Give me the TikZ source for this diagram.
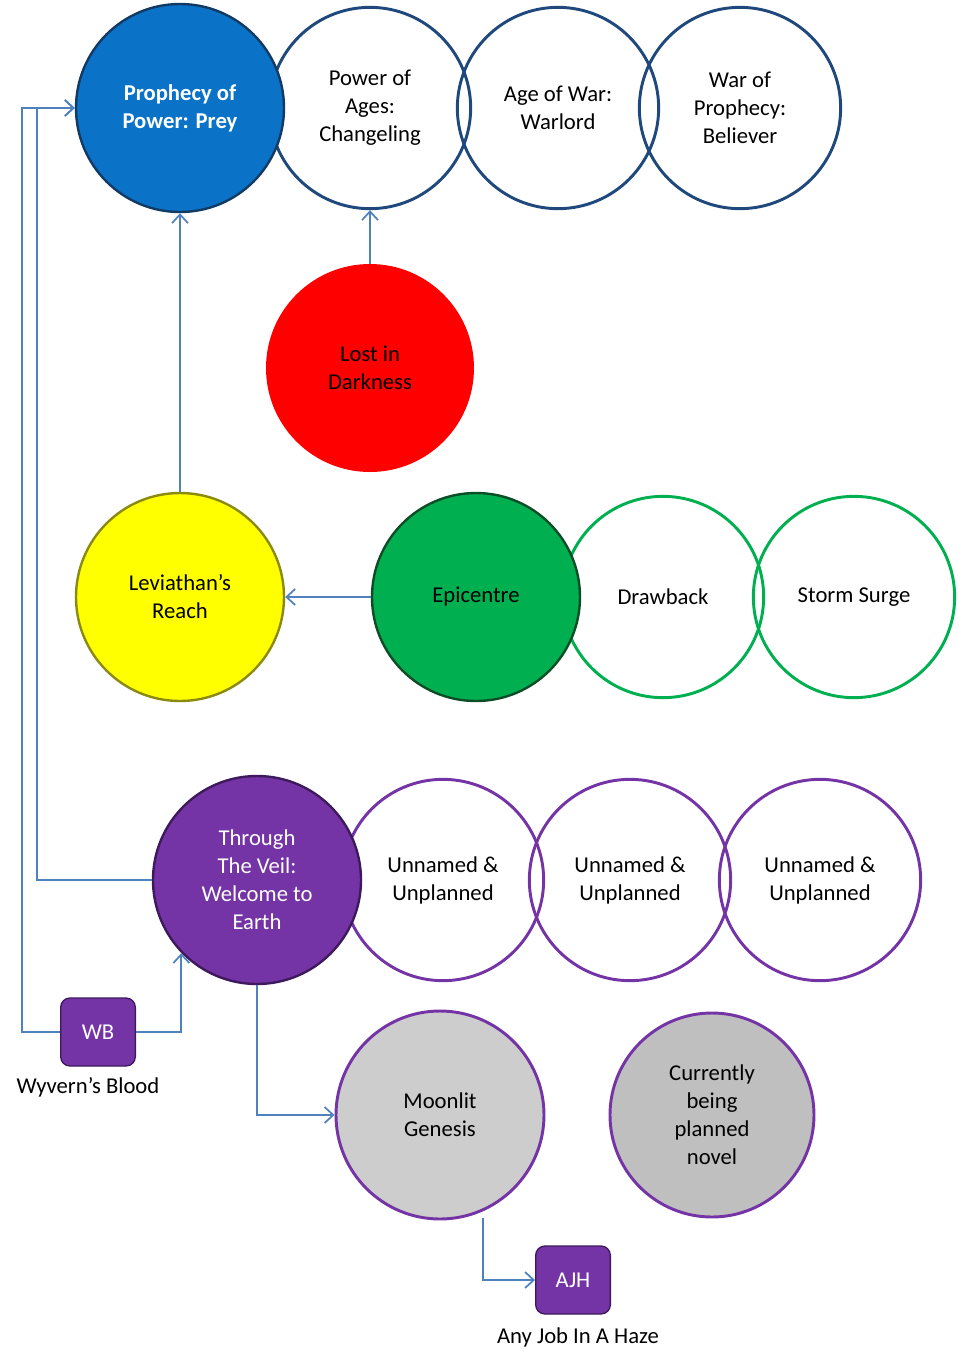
\documentclass[tikz,border=0pt]{standalone}
\usepackage{fontspec}
\setmainfont{Carlito}
\usetikzlibrary{arrows.meta}

\definecolor{linkblue}{HTML}{4F81BD}
\definecolor{navyring}{HTML}{1F497D}
\definecolor{preyblue}{HTML}{0A73C8}
\definecolor{preyrim}{HTML}{123A63}
\definecolor{leafgreen}{HTML}{00B050}
\definecolor{greenrim}{HTML}{0B4D26}
\definecolor{sunyellow}{HTML}{FFFF00}
\definecolor{yellowrim}{HTML}{8A8A10}
\definecolor{veilpurple}{HTML}{7434A6}
\definecolor{purplerim}{HTML}{3E1A5C}
\definecolor{moongray}{HTML}{CDCDCD}
\definecolor{novelgray}{HTML}{BFBFBF}

\tikzset{
  every node/.style={font=\fontsize{17}{21}\selectfont, align=center},
  ring/.style={circle, draw=#1, line width=2.2pt, minimum size=151pt, inner sep=0pt},
  book/.style={circle, fill=#1, minimum size=156pt, inner sep=0pt},
  tag/.style={rounded corners=7pt, fill=veilpurple, draw=purplerim, line width=1pt,
    minimum width=56pt, minimum height=51pt, text=white},
  link/.style={draw=linkblue, line width=1.3pt, -{Straight Barb[length=6.5pt, width=12pt]}}
}

\begin{document}
\begin{tikzpicture}[x=0.75pt, y=-0.75pt]
	\useasboundingbox (0,0) rectangle (959,1365);

	% first series
	\node[ring=navyring] (ages) at (370,108) {Power of\\Ages:\\Changeling};
	\node[ring=navyring] (warlord) at (558,108) {Age of War:\\Warlord};
	\node[ring=navyring] (believer) at (740,108) {War of\\Prophecy:\\Believer};
	\node[book=preyblue, draw=preyrim, line width=1.8pt, text=white, font=\fontsize{17}{21}\selectfont\bfseries] (prey) at (180,108) {Prophecy of\\Power: Prey};

	\node[book=red] (lost) at (370,368) {Lost in\\Darkness};

	% second series
	\node[ring=leafgreen] (drawback) at (663,597) {Drawback};
	\node[ring=leafgreen] (storm) at (854,597) {Storm Surge};
	\node[book=leafgreen, draw=greenrim, line width=1.8pt] (epi) at (476,597) {Epicentre};
	\node[book=sunyellow, draw=yellowrim, line width=1.8pt] (lev) at (180,597) {Leviathan’s\\Reach};

	% third series
	\node[ring=veilpurple] (unA) at (443,880) {Unnamed \&\\Unplanned};
	\node[ring=veilpurple] (unB) at (630,880) {Unnamed \&\\Unplanned};
	\node[ring=veilpurple] (unC) at (820,880) {Unnamed \&\\Unplanned};
	\node[book=veilpurple, draw=purplerim, line width=1.8pt, text=white] (veil) at (257,880) {Through\\The Veil:\\Welcome to\\Earth};

	\node[book=moongray, draw=veilpurple, line width=2.2pt] (moon) at (440,1115) {Moonlit\\Genesis};
	\node[book=novelgray, draw=veilpurple, line width=2.2pt, minimum size=153pt] (novel) at (712,1115) {Currently\\being\\planned\\novel};

	% short stories
	\node[tag] (wb) at (98,1032) {WB};
	\node (wbname) at (88,1087) {Wyvern’s Blood};
	\node[tag] (ajh) at (573,1280) {AJH};
	\node (ajhname) at (578,1337) {Any Job In A Haze};

	\draw[link] (lost.north) -- (ages.south);
	\draw[link] (lev.north) -- (prey.south);
	\draw[link] (epi.west) -- (lev.east);
	\draw[link] (veil.west) -- ++(-115,0) |- (prey.west);
	\draw[link] (wb.west) -- ++(-38,0) |- (prey.west);
	\draw[link] (wb.east) -| (veil.224);
	\draw[link] (veil.south) |- (moon.west);
	\draw[link, shorten <=5pt] (moon.-66) |- (ajh.west);
\end{tikzpicture}
\end{document}
